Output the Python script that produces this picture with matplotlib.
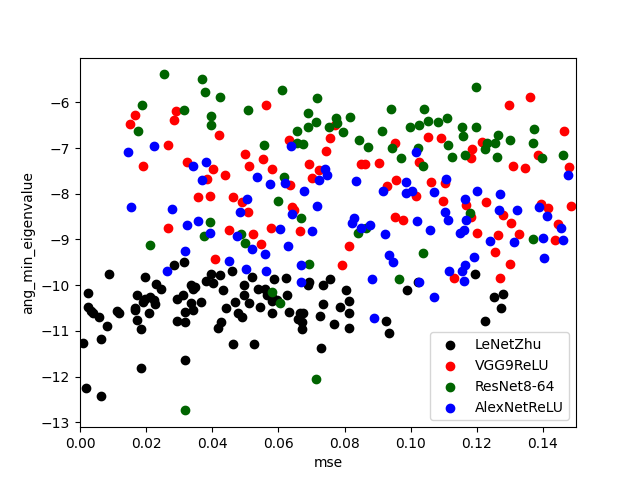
import matplotlib
matplotlib.use('Agg')
import matplotlib.pyplot as plt

# LeNetZhu
lenet_mse = [0.0008, 0.0019, 0.0064, 0.0024, 0.0024, 0.0034, 0.0039, 0.0057, 0.0083, 0.0064,
             0.0088, 0.0113, 0.0118, 0.0167, 0.0173, 0.0185, 0.0191, 0.0210, 0.0226, 0.0185,
             0.0172, 0.0196, 0.0211, 0.0224, 0.0197, 0.0231, 0.0244, 0.0165, 0.0284, 0.0314,
             0.0293, 0.0311, 0.0293, 0.0318, 0.0318, 0.0342, 0.0335, 0.0337, 0.0342, 0.0349,
             0.0367, 0.0318, 0.0382, 0.0397, 0.0402, 0.0422, 0.0432, 0.0460, 0.0495, 0.0495,
             0.0468, 0.0442, 0.0417, 0.0427, 0.0478, 0.0491, 0.0463, 0.0519, 0.0539, 0.0559,
             0.0565, 0.0587, 0.0622, 0.0580, 0.0595, 0.0625, 0.0512, 0.0544, 0.0693, 0.0690,
             0.0736, 0.0756, 0.0804, 0.0814, 0.0734, 0.0786, 0.0988, 0.0581, 0.0580, 0.0633,
             0.0665, 0.0675, 0.0660, 0.0670, 0.0672, 0.0727, 0.0769, 0.0814, 0.0814, 0.0526,
             0.0730, 0.0925, 0.0935, 0.1023, 0.1194, 0.1253, 0.1280, 0.1273, 0.1225]
lenet_eig = [-11.27, -12.26, -12.42, -10.17, -10.48, -10.57, -10.62, -10.70, -10.89, -11.17,
             -9.75, -10.57, -10.60, -10.55, -10.77, -10.95, -10.37, -10.62, -10.42, -11.81,
             -10.22, -10.30, -10.26, -10.33, -9.82, -9.97, -10.08, -10.51, -9.57, -9.49,
             -10.30, -10.22, -10.79, -10.81, -10.59, -10.54, -10.40, -10.00, -10.08, -10.04,
             -10.37, -11.63, -9.91, -9.75, -9.95, -9.77, -10.11, -9.69, -10.00, -10.22,
             -10.37, -10.51, -10.93, -10.81, -10.62, -10.70, -11.28, -9.82, -10.08, -10.08,
             -10.22, -9.86, -9.84, -10.26, -10.33, -10.22, -10.40, -10.48, -9.93, -10.00,
             -10.00, -9.86, -10.11, -10.35, -10.42, -10.48, -10.11, -10.62, -10.35, -10.59,
             -10.61, -10.61, -10.73, -10.81, -10.95, -10.68, -10.84, -10.62, -10.93, -11.28,
             -11.37, -10.79, -11.04, -9.93, -9.75, -10.26, -10.19, -10.50, -10.79]

# VGG9ReLU
vgg_mse = [0.0165, 0.0152, 0.0191, 0.0291, 0.0285, 0.0267, 0.0421, 0.0324, 0.0402, 0.0439,
           0.0383, 0.0500, 0.0510, 0.0563, 0.0632, 0.0757, 0.0744, 0.0771, 0.0554, 0.0581,
           0.0693, 0.0702, 0.0723, 0.0849, 0.0861, 0.0905, 0.0953, 0.0956, 0.0635, 0.1298,
           0.1362, 0.1053, 0.1093, 0.1217, 0.1186, 0.1183, 0.1310, 0.1347, 0.1386, 0.1463,
           0.1479, 0.1025, 0.1062, 0.1105, 0.0358, 0.0394, 0.0464, 0.0490, 0.0508, 0.0267,
           0.0451, 0.0409, 0.0640, 0.0648, 0.0524, 0.0578, 0.0666, 0.0546, 0.0814, 0.0791,
           0.0927, 0.0953, 0.0976, 0.1015, 0.1097, 0.1167, 0.1182, 0.1229, 0.1280, 0.1303,
           0.1328, 0.1265, 0.1200, 0.1255, 0.1300, 0.1271, 0.1130, 0.1394, 0.1414, 0.1446,
           0.1436, 0.1485]
vgg_eig = [-6.28, -6.47, -7.39, -6.20, -6.38, -6.93, -6.71, -7.30, -7.45, -7.58,
           -7.67, -7.14, -7.40, -6.07, -6.83, -6.79, -7.06, -6.49, -7.25, -7.45,
           -7.34, -7.65, -7.49, -7.34, -7.36, -7.32, -6.90, -7.71, -7.82, -6.05,
           -5.88, -6.75, -6.79, -6.86, -7.03, -7.21, -7.39, -7.43, -7.16, -6.63,
           -7.41, -7.30, -7.74, -7.77, -8.08, -8.04, -8.08, -8.18, -8.40, -8.74,
           -8.79, -9.42, -8.29, -8.36, -8.89, -8.74, -8.82, -9.11, -9.15, -9.57,
           -7.84, -8.52, -8.57, -8.04, -8.17, -8.25, -8.52, -8.19, -8.46, -8.65,
           -8.89, -8.91, -8.86, -9.28, -9.53, -9.84, -9.85, -8.23, -8.32, -8.67,
           -9.02, -8.26]

# ResNet8-64
resnet_mse = [0.0255, 0.0370, 0.0379, 0.0424, 0.0188, 0.0315, 0.0396, 0.0396, 0.0176, 0.0508,
              0.0612, 0.0718, 0.0690, 0.0715, 0.0690, 0.0657, 0.0775, 0.0777, 0.0754, 0.0817,
              0.0796, 0.0845, 0.0872, 0.0941, 0.0914, 0.0998, 0.0944, 0.0972, 0.0557, 0.0657,
              0.0675, 0.0618, 0.1197, 0.1041, 0.1026, 0.1053, 0.1083, 0.1111, 0.1156, 0.1159,
              0.1197, 0.1265, 0.1301, 0.1255, 0.1230, 0.1225, 0.1114, 0.1126, 0.1165, 0.1262,
              0.1374, 0.1371, 0.1460, 0.1398, 0.1023, 0.1038, 0.0394, 0.0375, 0.0488, 0.0498,
              0.0213, 0.0600, 0.0668, 0.0693, 0.0840, 0.0865, 0.0966, 0.0580, 0.0605, 0.1179,
              0.1371, 0.1038, 0.0318, 0.0715]
resnet_eig = [-5.39, -5.49, -5.77, -5.88, -6.07, -6.16, -6.29, -6.49, -6.62, -6.16,
              -5.74, -5.90, -6.23, -6.44, -6.55, -6.62, -6.35, -6.46, -6.53, -6.33,
              -6.66, -6.82, -6.97, -6.14, -6.62, -6.55, -6.99, -7.21, -6.93, -6.90,
              -6.91, -7.64, -5.66, -6.14, -6.50, -6.42, -6.44, -6.35, -6.55, -6.73,
              -6.53, -6.71, -6.82, -6.88, -6.89, -7.02, -6.93, -7.19, -7.16, -7.19,
              -6.58, -6.89, -7.16, -7.21, -7.01, -7.39, -8.62, -8.93, -8.89, -9.07,
              -9.13, -8.15, -8.54, -9.54, -8.87, -8.75, -9.87, -10.15, -10.38, -8.42,
              -8.98, -9.30, -12.74, -12.05]

# AlexNetReLU
alex_mse = [0.0146, 0.0225, 0.0343, 0.0382, 0.0369, 0.0638, 0.0742, 0.0748, 0.0723, 0.0536,
            0.0575, 0.0621, 0.0835, 0.0985, 0.1016, 0.1107, 0.1477, 0.0155, 0.0279, 0.0324,
            0.0357, 0.0394, 0.0485, 0.0476, 0.0318, 0.0264, 0.0451, 0.0503, 0.0506, 0.0678,
            0.0718, 0.0642, 0.0606, 0.0702, 0.0628, 0.0521, 0.0559, 0.0668, 0.0562, 0.0668,
            0.0829, 0.0822, 0.0849, 0.0877, 0.0922, 0.0935, 0.0947, 0.0882, 0.0917, 0.0985,
            0.1003, 0.1071, 0.1201, 0.1271, 0.1164, 0.1104, 0.1114, 0.1020, 0.1058, 0.1149,
            0.1162, 0.1167, 0.1267, 0.1321, 0.1389, 0.1413, 0.1454, 0.1461, 0.1401, 0.1313,
            0.1241, 0.1192, 0.1165, 0.1154, 0.1117, 0.1162, 0.1025, 0.1070, 0.1404, 0.0889]
alex_eig = [-7.08, -6.95, -7.39, -7.31, -7.71, -6.96, -7.45, -7.60, -7.71, -7.63,
            -7.79, -7.77, -7.73, -7.75, -7.08, -7.68, -7.58, -8.28, -8.33, -8.69,
            -8.60, -8.85, -8.41, -8.93, -9.26, -9.68, -9.48, -9.64, -8.11, -7.93,
            -8.26, -8.45, -8.77, -8.82, -9.14, -9.20, -9.31, -9.55, -9.68, -9.93,
            -8.54, -8.65, -8.74, -8.68, -8.89, -9.33, -9.49, -9.86, -7.93, -7.98,
            -7.93, -7.96, -7.95, -8.01, -8.12, -8.41, -8.57, -8.60, -8.80, -8.85,
            -8.80, -8.58, -8.36, -8.36, -8.28, -8.48, -8.76, -9.02, -8.96, -9.06,
            -9.03, -9.38, -9.57, -9.68, -9.68, -9.92, -9.93, -10.26, -9.40, -10.71]

fig, ax = plt.subplots(figsize=(6.4, 4.8), dpi=100)
ax.scatter(lenet_mse, lenet_eig, color='black', label='LeNetZhu')
ax.scatter(vgg_mse, vgg_eig, color='red', label='VGG9ReLU')
ax.scatter(resnet_mse, resnet_eig, color='darkgreen', label='ResNet8-64')
ax.scatter(alex_mse, alex_eig, color='blue', label='AlexNetReLU')
ax.set_xlim(0, 0.15)
ax.set_xlabel('mse')
ax.set_ylabel('ang_min_eigenvalue')
ax.legend(loc='lower right')
fig.savefig('out.png')
